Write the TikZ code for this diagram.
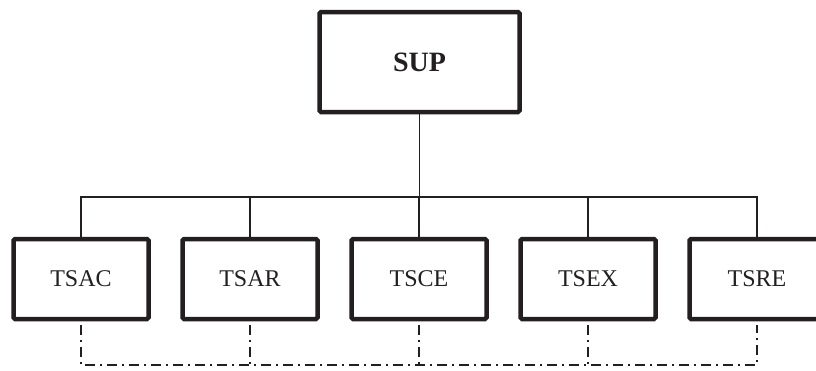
\documentclass[tikz,border=0pt]{standalone}
\usepackage{fontspec}
\setmainfont{Liberation Serif}
\usepackage{tikz}
\usetikzlibrary{positioning}
\definecolor{ink}{RGB}{35,31,32}

\begin{document}
\begin{tikzpicture}[x=1pt,y=1pt,
    topbox/.style={rectangle,draw=ink,line width=4.5pt,rounded corners=1.5pt,minimum width=200pt,
                   minimum height=100pt,inner sep=0pt,text=ink,font=\fontsize{28}{32}\selectfont\bfseries},
    subbox/.style={rectangle,draw=ink,line width=4.5pt,rounded corners=1.5pt,minimum width=135pt,
                   minimum height=80pt,inner sep=0pt,text=ink,font=\fontsize{24}{28}\selectfont},
    link/.style={draw=ink,line width=1.9pt},
    dashdot/.style={draw=ink,line width=1.9pt,dash pattern=on 10pt off 5pt on 2pt off 5pt}
]
\useasboundingbox (0,0) rectangle (816,-370);

\node[topbox] (sup)  at (419.5,-62) {SUP};
\node[subbox] (tsac) at (81,-279)  {TSAC};
\node[subbox] (tsar) at (250,-279) {TSAR};
\node[subbox] (tsce) at (419,-279) {TSCE};
\node[subbox] (tsex) at (588,-279) {TSEX};
\node[subbox] (tsre) at (757,-279) {TSRE};

\coordinate (bus)  at (0,-197);
\coordinate (dbus) at (0,-365);

% solid tree
\draw[link] (sup.south) -- (sup.south |- bus);
\draw[link] (tsac.north) |- (tsre.north |- bus) -- (tsre.north);
\draw[link] (tsar.north) -- (tsar.north |- bus);
\draw[link] (tsce.north) -- (tsce.north |- bus);
\draw[link] (tsex.north) -- (tsex.north |- bus);

% dash-dot link below
\draw[dashdot] ([yshift=-4pt]tsac.south) |- (tsre.south |- dbus) -- ([yshift=-4pt]tsre.south);
\draw[dashdot] ([yshift=-4pt]tsar.south) -- (tsar.south |- dbus);
\draw[dashdot] ([yshift=-4pt]tsce.south) -- (tsce.south |- dbus);
\draw[dashdot] ([yshift=-4pt]tsex.south) -- (tsex.south |- dbus);
\end{tikzpicture}
\end{document}
